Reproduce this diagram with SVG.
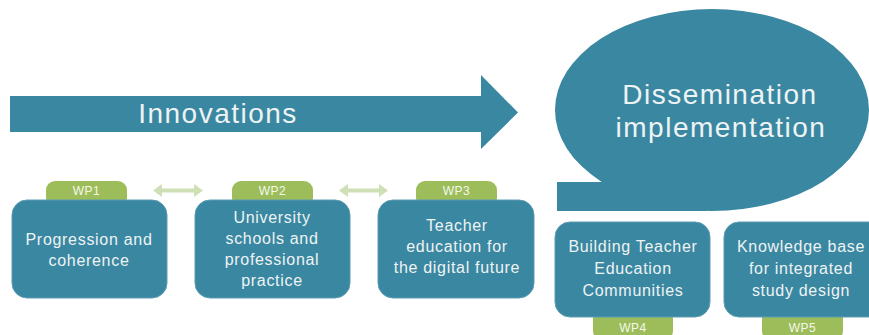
<svg xmlns="http://www.w3.org/2000/svg" width="869" height="335" viewBox="0 0 869 335">
<defs>
<style>
.teal{fill:#3a87a1;}
.box{fill:#3a87a1;stroke:#5d9db2;stroke-width:1;}
.tab{fill:#9dbd5a;}
.t{font-family:"Liberation Sans",Arial,sans-serif;fill:#eef3f4;text-anchor:middle;}
.big{font-size:28px;letter-spacing:1.5px;}
.lbl{font-size:16px;letter-spacing:0.7px;}
.wp{font-size:12px;letter-spacing:0.5px;fill:#f4f8ec;}
.dbl{fill:#cfe0b6;}
</style>
</defs>
<rect width="869" height="335" fill="#ffffff"/>

<g id="innovations">
<path class="teal" d="M10,96 H481 V75 L518,112.5 L481,149 V132 H10 Z"/>
<text class="t big" x="218" y="123">Innovations</text>
</g>

<g id="dissemination">
<ellipse class="teal" cx="712" cy="110" rx="157" ry="101"/>
<rect class="teal" x="557" y="182" width="150" height="29"/>
<text class="t big" x="720" y="104">Dissemination</text>
<text class="t big" x="721" y="137">implementation</text>
</g>

<g id="connectors">
<path class="dbl" d="M153,190.5 L162,184 V188.5 H194 V184 L203,190.5 L194,197 V192.5 H162 V197 Z"/>
<path class="dbl" d="M339,190.5 L348,184 V188.5 H379 V184 L388,190.5 L379,197 V192.5 H348 V197 Z"/>
</g>

<g id="wp1">
<rect class="tab" x="46" y="181" width="81" height="26" rx="9"/>
<rect class="box" x="12" y="200" width="155" height="98" rx="15"/>
<text class="t wp" x="86.5" y="195">WP1</text>
<text class="t lbl" x="89" y="245">Progression and</text>
<text class="t lbl" x="89" y="266">coherence</text>
</g>

<g id="wp2">
<rect class="tab" x="232" y="181" width="81" height="26" rx="9"/>
<rect class="box" x="195" y="200" width="155" height="98" rx="15"/>
<text class="t wp" x="272.5" y="195">WP2</text>
<text class="t lbl" x="272" y="223">University</text>
<text class="t lbl" x="272" y="244">schools and</text>
<text class="t lbl" x="272" y="265">professional</text>
<text class="t lbl" x="272" y="286">practice</text>
</g>

<g id="wp3">
<rect class="tab" x="416" y="181" width="81" height="26" rx="9"/>
<rect class="box" x="378" y="200" width="156" height="98" rx="15"/>
<text class="t wp" x="456.5" y="195">WP3</text>
<text class="t lbl" x="457" y="231">Teacher</text>
<text class="t lbl" x="457" y="252">education for</text>
<text class="t lbl" x="457" y="273">the digital future</text>
</g>

<g id="wp4">
<rect class="tab" x="593" y="310" width="80" height="30" rx="9"/>
<rect class="box" x="555" y="222" width="155" height="95" rx="15"/>
<text class="t wp" x="633" y="332">WP4</text>
<text class="t lbl" x="633" y="252">Building Teacher</text>
<text class="t lbl" x="633" y="274">Education</text>
<text class="t lbl" x="633" y="296">Communities</text>
</g>

<g id="wp5">
<rect class="tab" x="762" y="310" width="81" height="30" rx="9"/>
<rect class="box" x="724" y="222" width="160" height="95" rx="15"/>
<text class="t wp" x="802.5" y="332">WP5</text>
<text class="t lbl" x="801" y="252">Knowledge base</text>
<text class="t lbl" x="801" y="274">for integrated</text>
<text class="t lbl" x="801" y="296">study design</text>
</g>
</svg>
